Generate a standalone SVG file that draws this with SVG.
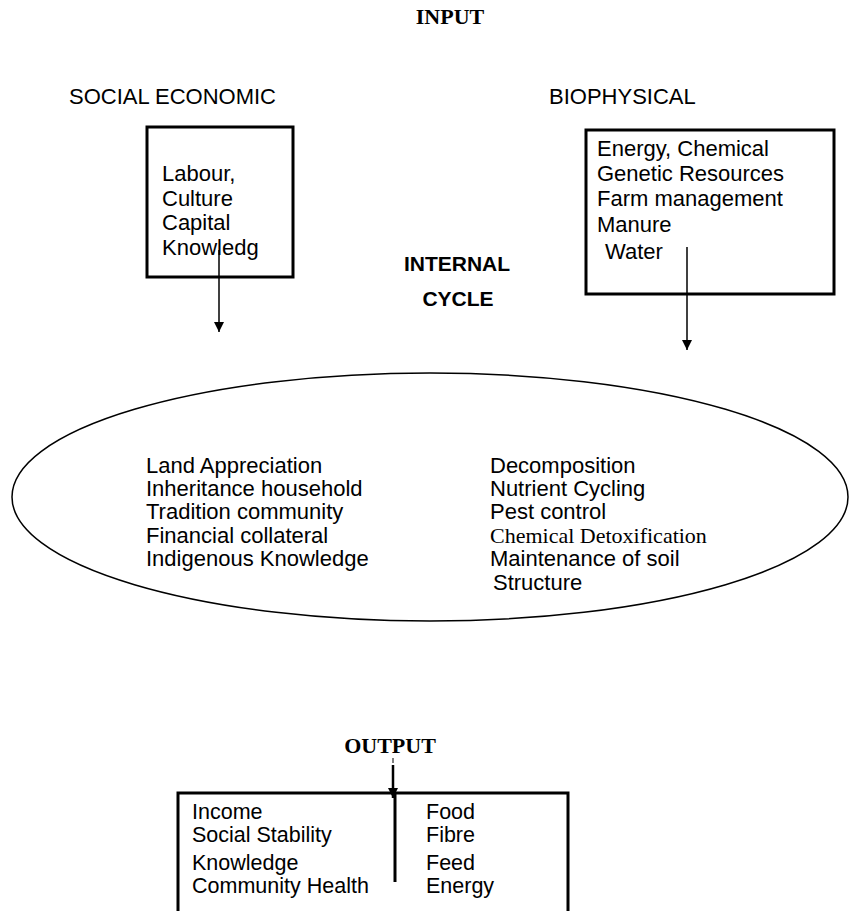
<svg xmlns="http://www.w3.org/2000/svg" width="849" height="911" viewBox="0 0 849 911">
<style>
.t{font-family:"Liberation Sans",Arial,sans-serif;font-size:22px;fill:#000}
.e{font-family:"Liberation Sans",Arial,sans-serif;font-size:22px;fill:#000}
.o{font-family:"Liberation Sans",Arial,sans-serif;font-size:21.5px;fill:#000}
.serif{font-family:"Liberation Serif","Times New Roman",serif;font-size:22px;fill:#000}
.tb{font-family:"Liberation Serif","Times New Roman",serif;font-size:22px;font-weight:bold;fill:#000}
.hb{font-family:"Liberation Sans",Arial,sans-serif;font-size:21px;font-weight:bold;fill:#000}
.box{fill:none;stroke:#000;stroke-width:3}
.ln{fill:none;stroke:#000;stroke-width:1.5}
</style>
<defs>
<marker id="ah" viewBox="0 0 10 10" refX="10" refY="5" markerWidth="10" markerHeight="10" markerUnits="userSpaceOnUse" orient="auto">
<path d="M0,0 L10,5 L0,10 z" fill="#000"/>
</marker>
</defs>
<rect width="849" height="911" fill="#fff"/>
<g id="labels">
<text class="tb" x="450" y="24" text-anchor="middle">INPUT</text>
<text class="t" x="69" y="104">SOCIAL ECONOMIC</text>
<text class="t" x="549" y="104">BIOPHYSICAL</text>
<text class="hb" x="457" y="271" text-anchor="middle">INTERNAL</text>
<text class="hb" x="458" y="306" text-anchor="middle">CYCLE</text>
<text class="tb" x="390" y="753" text-anchor="middle">OUTPUT</text>
</g>
<g id="social">
<rect class="box" x="147" y="127" width="146" height="150"/>
<text class="t" x="162" y="181">Labour,</text>
<text class="t" x="162" y="206">Culture</text>
<text class="t" x="162" y="230">Capital</text>
<text class="t" x="162" y="255">Knowledg</text>
</g>
<g id="biophysical">
<rect class="box" x="586" y="130" width="248" height="164"/>
<text class="t" x="597" y="156">Energy, Chemical</text>
<text class="t" x="597" y="181">Genetic Resources</text>
<text class="t" x="597" y="206">Farm management</text>
<text class="t" x="597" y="232">Manure</text>
<text class="t" x="605" y="259">Water</text>
</g>
<g id="internal">
<ellipse class="ln" cx="430" cy="497" rx="418" ry="124"/>
<text class="e" x="146" y="473">Land Appreciation</text>
<text class="e" x="146" y="496">Inheritance household</text>
<text class="e" x="146" y="519">Tradition community</text>
<text class="e" x="146" y="543">Financial collateral</text>
<text class="e" x="146" y="566">Indigenous Knowledge</text>
<text class="e" x="490" y="473">Decomposition</text>
<text class="e" x="490" y="496">Nutrient Cycling</text>
<text class="e" x="490" y="519">Pest control</text>
<text class="serif" x="490" y="543">Chemical Detoxification</text>
<text class="e" x="490" y="566">Maintenance of soil</text>
<text class="e" x="493" y="590">Structure</text>
</g>
<g id="output">
<path class="box" d="M178,911 V793 H568 V911"/>
<line x1="395" y1="793" x2="395" y2="882" stroke="#000" stroke-width="3"/>
<text class="o" x="192" y="819">Income</text>
<text class="o" x="192" y="842">Social Stability</text>
<text class="o" x="192" y="870">Knowledge</text>
<text class="o" x="192" y="893">Community Health</text>
<text class="o" x="426" y="819">Food</text>
<text class="o" x="426" y="842">Fibre</text>
<text class="o" x="426" y="870">Feed</text>
<text class="o" x="426" y="893">Energy</text>
</g>
<g id="connectors">
<line class="ln" x1="219" y1="250" x2="219" y2="332" marker-end="url(#ah)"/>
<line class="ln" x1="687" y1="247" x2="687" y2="350" marker-end="url(#ah)"/>
<line x1="393" y1="758" x2="393" y2="763" stroke="#000" stroke-width="1"/>
<line x1="393" y1="765" x2="393" y2="798" stroke="#000" stroke-width="2.5" marker-end="url(#ah)"/>
</g>
</svg>
